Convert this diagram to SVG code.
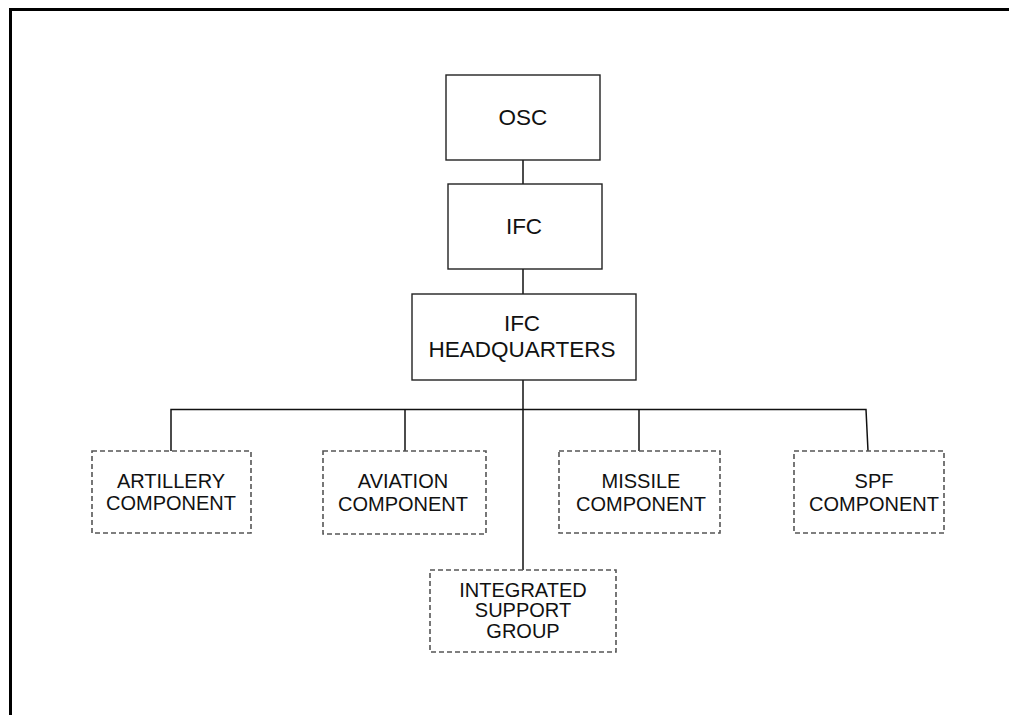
<svg xmlns="http://www.w3.org/2000/svg" width="1009" height="715" viewBox="0 0 1009 715">
<style>
.solid{fill:#fff;stroke:#222;stroke-width:1.4}
.dash{fill:#fff;stroke:#555;stroke-width:1.6;stroke-dasharray:5 3}
.t{font-family:"Liberation Sans",Arial,sans-serif;fill:#111;text-anchor:middle}
.big{font-size:22.5px}
.sm{font-size:20px}
.conn{stroke:#111;stroke-width:1.5;fill:none}
</style>
<rect x="0" y="0" width="1009" height="715" fill="#fff"/>
<g id="frame"><path d="M10.5 715 V9.5 H1009" fill="none" stroke="#000" stroke-width="3"/></g>
<g id="connectors">
<line class="conn" x1="523" y1="160" x2="523" y2="184"/>
<line class="conn" x1="523" y1="269" x2="523" y2="294"/>
<line class="conn" x1="523" y1="380" x2="523" y2="570"/>
<polyline class="conn" points="171,451 171,409.5 866,409.5 868,451"/>
<line class="conn" x1="405" y1="409.5" x2="405" y2="451"/>
<line class="conn" x1="639" y1="409.5" x2="639" y2="451"/>
</g>
<g id="osc"><rect class="solid" x="446" y="75" width="154" height="85"/><text class="t big" x="523" y="125">OSC</text></g>
<g id="ifc"><rect class="solid" x="448" y="184" width="154" height="85"/><text class="t big" x="524" y="234">IFC</text></g>
<g id="ifc-hq"><rect class="solid" x="412" y="294" width="224" height="86"/><text class="t big" x="522" y="330.5">IFC</text><text class="t big" x="522" y="356.5">HEADQUARTERS</text></g>
<g id="artillery"><rect class="dash" x="92" y="451" width="159" height="82"/><text class="t sm" x="171" y="487.5">ARTILLERY</text><text class="t sm" x="171" y="510">COMPONENT</text></g>
<g id="aviation"><rect class="dash" x="323" y="451" width="163" height="83"/><text class="t sm" x="403" y="488">AVIATION</text><text class="t sm" x="403" y="511">COMPONENT</text></g>
<g id="missile"><rect class="dash" x="559" y="451" width="161" height="82"/><text class="t sm" x="641" y="488">MISSILE</text><text class="t sm" x="641" y="511">COMPONENT</text></g>
<g id="spf"><rect class="dash" x="794" y="451" width="150" height="82"/><text class="t sm" x="874" y="488">SPF</text><text class="t sm" x="874" y="511">COMPONENT</text></g>
<g id="isg"><rect class="dash" x="430" y="570" width="186" height="82"/><text class="t sm" x="523" y="596.5">INTEGRATED</text><text class="t sm" x="523" y="617">SUPPORT</text><text class="t sm" x="523" y="637.5">GROUP</text></g>
</svg>
